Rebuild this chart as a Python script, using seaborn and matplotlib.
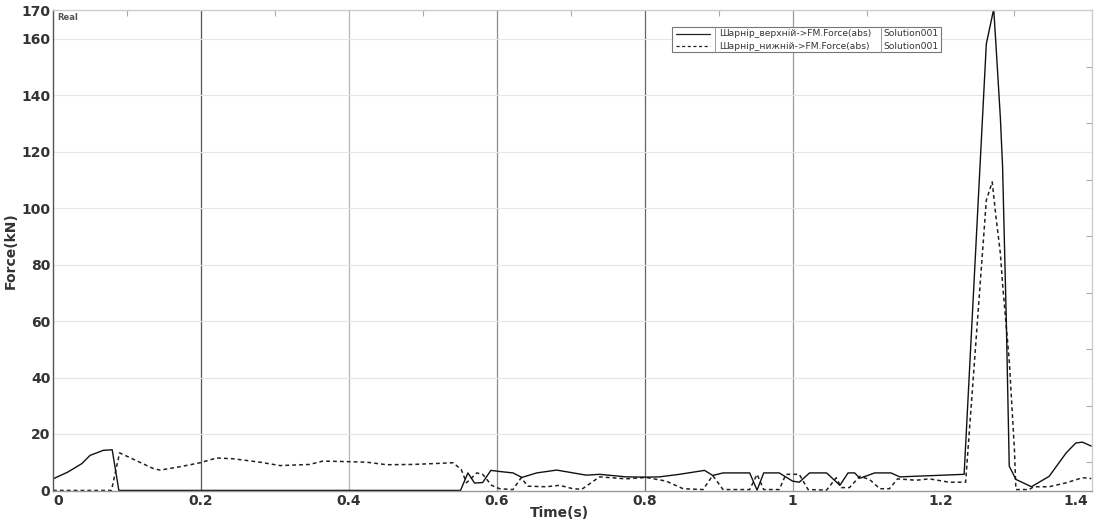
import numpy as np
import pandas as pd
import matplotlib
matplotlib.use('Agg')
import matplotlib.pyplot as plt
import seaborn as sns
from matplotlib.ticker import MultipleLocator, FixedLocator

sns.set_style('white')
plt.rcParams['font.family'] = ['DejaVu Sans']

# upper hinge (solid)
t_upper = [0, 0.02, 0.039, 0.05, 0.068, 0.08, 0.089, 0.551, 0.561, 0.570, 0.581, 0.592,
           0.604, 0.622, 0.634, 0.654, 0.681, 0.699, 0.721, 0.739, 0.775, 0.802, 0.820,
           0.847, 0.881, 0.892, 0.906, 0.942, 0.952, 0.961, 0.982, 1.0, 1.009, 1.023,
           1.046, 1.064, 1.075, 1.084, 1.091, 1.111, 1.133, 1.145, 1.194, 1.232, 1.262,
           1.272, 1.275, 1.281, 1.284, 1.289, 1.293, 1.302, 1.323, 1.347, 1.37, 1.383,
           1.392, 1.404]
f_upper = [4.1, 6.5, 9.5, 12.4, 14.2, 14.4, 0, 0, 6.2, 2.6, 2.8, 7.1,
           6.7, 6.2, 4.6, 6.2, 7.2, 6.4, 5.4, 5.7, 4.8, 4.7, 4.8,
           5.7, 7.1, 5.3, 6.2, 6.2, 0.1, 6.2, 6.2, 3.3, 2.9, 6.2,
           6.2, 1.8, 6.2, 6.2, 4.3, 6.2, 6.2, 4.8, 5.3, 5.7, 158.2,
           170.5, 158, 132, 114.6, 60.4, 8.6, 3.9, 1.3, 5.0, 13.3, 16.8,
           17.1, 15.7]

# lower hinge (dashed)
t_lower = [0, 0.079, 0.09, 0.109, 0.136, 0.145, 0.172, 0.199, 0.221, 0.244, 0.28, 0.307,
           0.347, 0.365, 0.397, 0.424, 0.451, 0.487, 0.514, 0.541, 0.552, 0.559, 0.573,
           0.581, 0.593, 0.604, 0.622, 0.633, 0.642, 0.667, 0.685, 0.703, 0.715, 0.739,
           0.775, 0.802, 0.829, 0.852, 0.879, 0.892, 0.906, 0.942, 0.952, 0.961, 0.982,
           0.991, 1.009, 1.021, 1.046, 1.059, 1.066, 1.077, 1.091, 1.104, 1.118, 1.131,
           1.142, 1.167, 1.185, 1.212, 1.234, 1.262, 1.27, 1.275, 1.281, 1.284, 1.293,
           1.3, 1.302, 1.32, 1.326, 1.347, 1.37, 1.392, 1.404]
f_lower = [0, 0, 13.3, 11, 7.7, 7.2, 8.4, 9.8, 11.5, 11.2, 10, 8.8,
           9.2, 10.4, 10.2, 10, 9.1, 9.2, 9.5, 9.8, 7.4, 2.7, 6.2,
           5.7, 1.8, 0.6, 0.3, 4.5, 1.5, 1.3, 1.8, 0.6, 0.4, 4.8,
           4.1, 4.6, 3.3, 0.6, 0.3, 5.3, 0.3, 0.3, 5.7, 0.3, 0.3,
           5.7, 5.7, 0.3, 0.1, 4.5, 1.0, 1.0, 5.0, 3.9, 0.6, 0.6,
           4.1, 3.6, 4.1, 2.9, 2.9, 102.8, 109.3, 97, 84, 73, 46,
           14.5, 0.3, 0.3, 1.3, 1.3, 2.7, 4.5, 4.2]

y_ticks = [0, 20, 40, 60, 80, 100, 120, 140, 160, 170]
x_ticks = [0, 0.2, 0.4, 0.6, 0.8, 1.0, 1.2, 1.4]
x_tick_labels = ['0', '0.2', '0.4', '0.6', '0.8', '1', '1.2', '1.4']
vgrid = [0.2, 0.4, 0.6, 0.8, 1.0]
vgrid_colors = ['#555555', '#b5b5b5', '#8a8a8a', '#666666', '#999999']

name_upper = 'Шарнір_верхній->FM.Force(abs)'
name_lower = 'Шарнір_нижній->FM.Force(abs)'
solution = 'Solution001'

df_u = pd.DataFrame({'t': t_upper, 'f': f_upper})
df_l = pd.DataFrame({'t': t_lower, 'f': f_lower})

fig = plt.figure(figsize=(10.98, 5.25), dpi=100)
ax = fig.add_axes([0.0483, 0.0648, 0.9463, 0.9162])

for xv, c in zip(vgrid, vgrid_colors):
    ax.axvline(xv, color=c, lw=0.9, zorder=0)
for yv in range(20, 170, 20):
    ax.axhline(yv, color='#e6e6e6', lw=0.8, zorder=0)

sns.lineplot(data=df_l, x='t', y='f', ax=ax, sort=False, estimator=None,
             color='#222222', lw=1.1, linestyle=(0, (2.5, 2)))
sns.lineplot(data=df_u, x='t', y='f', ax=ax, sort=False, estimator=None,
             color='#111111', lw=1.0)

ax.set_xlim(0, 1.405)
ax.set_ylim(-0.2, 170.2)
ax.xaxis.set_major_locator(FixedLocator(x_ticks))
ax.set_xticklabels(x_tick_labels)
ax.yaxis.set_major_locator(FixedLocator(y_ticks))
ax.xaxis.set_minor_locator(MultipleLocator(0.1))
ax.yaxis.set_minor_locator(MultipleLocator(10))
ax.tick_params(axis='both', which='major', length=0, labelsize=10,
               labelcolor='#333333', pad=2)
ax.tick_params(axis='both', which='minor', direction='in', length=4,
               color='#aaaaaa', width=0.8, top=True, right=True)
for lab in ax.get_xticklabels() + ax.get_yticklabels():
    lab.set_fontweight('bold')
ax.get_xticklabels()[-1].set_horizontalalignment('right')
ax.get_xticklabels()[0].set_horizontalalignment('left')

ax.set_xlabel('Time(s)', fontsize=10, fontweight='bold', color='#333333')
ax.set_ylabel('Force(kN)', fontsize=10, fontweight='bold', color='#333333')
ax.xaxis.set_label_coords(0.487, -0.031)
ax.yaxis.set_label_coords(-0.034, 0.5)

ax.spines['left'].set_color('#555555')
ax.spines['bottom'].set_color('#999999')
ax.spines['top'].set_color('#cccccc')
ax.spines['right'].set_color('#cccccc')
for s in ax.spines.values():
    s.set_linewidth(1.0)

ax.text(0.004, 0.993, 'Real', transform=ax.transAxes, fontsize=6, color='#555555',
        va='top', ha='left', fontweight='bold')

# legend box drawn like the original table-style legend
tr = ax.transAxes
x0, x1 = 0.5955, 0.8545
y0, y1 = 0.9133, 0.9653
ax.add_patch(plt.Rectangle((x0, y0), x1 - x0, y1 - y0, transform=tr, fill=True,
                           facecolor='white', edgecolor='#777777', lw=0.8, zorder=5))
for xs in (0.637, 0.7966):
    ax.plot([xs, xs], [y0, y1], transform=tr, color='#999999', lw=0.7, zorder=6)
rows = [(0.9505, name_upper, '-'), (0.9245, name_lower, (0, (2.5, 2)))]
for yy, name, ls in rows:
    ax.plot([0.600, 0.632], [yy, yy], transform=tr, color='#222222', lw=0.9,
            linestyle=ls, zorder=6)
    ax.text(0.641, yy, name, transform=tr, fontsize=6.6, va='center', ha='left',
            color='#333333', zorder=6)
    ax.text(0.7995, yy, solution, transform=tr, fontsize=6.6, va='center', ha='left',
            color='#333333', zorder=6)

fig.savefig('out.png', dpi=100)
